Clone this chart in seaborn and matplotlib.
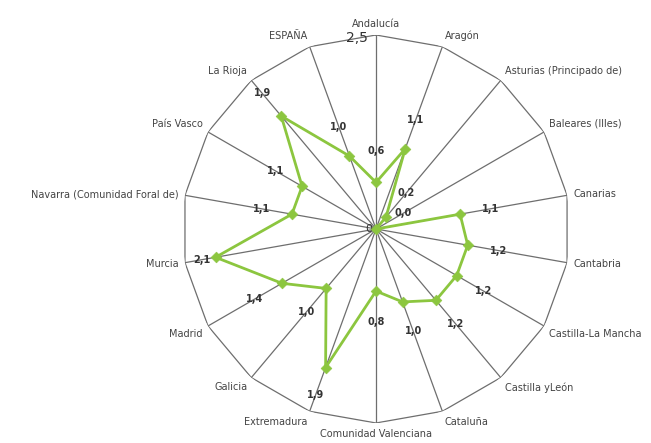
import numpy as np
import matplotlib
matplotlib.use("Agg")
import matplotlib.pyplot as plt
import seaborn as sns

regions = ["Andalucía", "Aragón", "Asturias (Principado de)", "Baleares (Illes)",
           "Canarias", "Cantabria", "Castilla-La Mancha", "Castilla yLeón",
           "Cataluña", "Comunidad Valenciana", "Extremadura", "Galicia",
           "Madrid", "Murcia", "Navarra (Comunidad Foral de)", "País Vasco",
           "La Rioja", "ESPAÑA"]
values = [0.6, 1.1, 0.2, 0.0, 1.1, 1.2, 1.2, 1.2, 1.0, 0.8,
          1.9, 1.0, 1.4, 2.1, 1.1, 1.1, 1.9, 1.0]
r_max = 2.5

sns.set_style("white")
plt.rcParams['font.family'] = ['DejaVu Sans']

n = len(regions)
angles = np.linspace(0, 2 * np.pi, n, endpoint=False)
closed = np.append(angles, angles[0])

fig = plt.figure(figsize=(6.51, 4.43), dpi=100)
ax = fig.add_axes([0.2796, 0.0451, 0.596, 0.876], projection="polar")
ax.set_theta_zero_location("N")
ax.set_theta_direction(-1)
ax.set_ylim(0, r_max)
ax.grid(False)
ax.spines['polar'].set_visible(False)

grid_col = "#6e6e6e"
# spokes and outer polygon
for a in angles:
    ax.plot([a, a], [0, r_max], color=grid_col, lw=0.9, zorder=1)
ax.plot(closed, [r_max] * (n + 1), color=grid_col, lw=0.9, zorder=1)

# data line (closed polygon) + markers
green = "#8cc63f"
ax.plot(closed, np.append(values, values[0]), color=green, lw=2, zorder=3)
sns.scatterplot(x=angles, y=values, ax=ax, color=green, marker="D", s=30,
                edgecolor=green, zorder=4)
ax.set_xlabel("")
ax.set_ylabel("")
ax.set_xticks([])
ax.set_yticks([])

# value labels
for a, v in zip(angles, values):
    ax.text(a, min(v + 0.4, r_max - 0.22), f"{v:.1f}".replace(".", ","), fontsize=7,
            fontweight="bold", color="#333333", ha="center", va="center", zorder=5)

# category labels
for a, name in zip(angles, regions):
    s = np.sin(a)
    c = np.cos(a)
    if abs(s) < 0.05:
        ha = "center"
    elif s > 0:
        ha = "left"
    else:
        ha = "right"
    if c > 0.3:
        va = "bottom"
    elif c < -0.3:
        va = "top"
    else:
        va = "center"
    ax.text(a, r_max + 0.08, name, fontsize=7, color="#444444", ha=ha, va=va)

ax.text(0, 0, "0 ", fontsize=8, color="#333333", ha="right", va="center")
ax.text(-0.1, r_max - 0.02, "2,5", fontsize=10, color="#333333", ha="center", va="center")

fig.savefig("out.png", dpi=100)
